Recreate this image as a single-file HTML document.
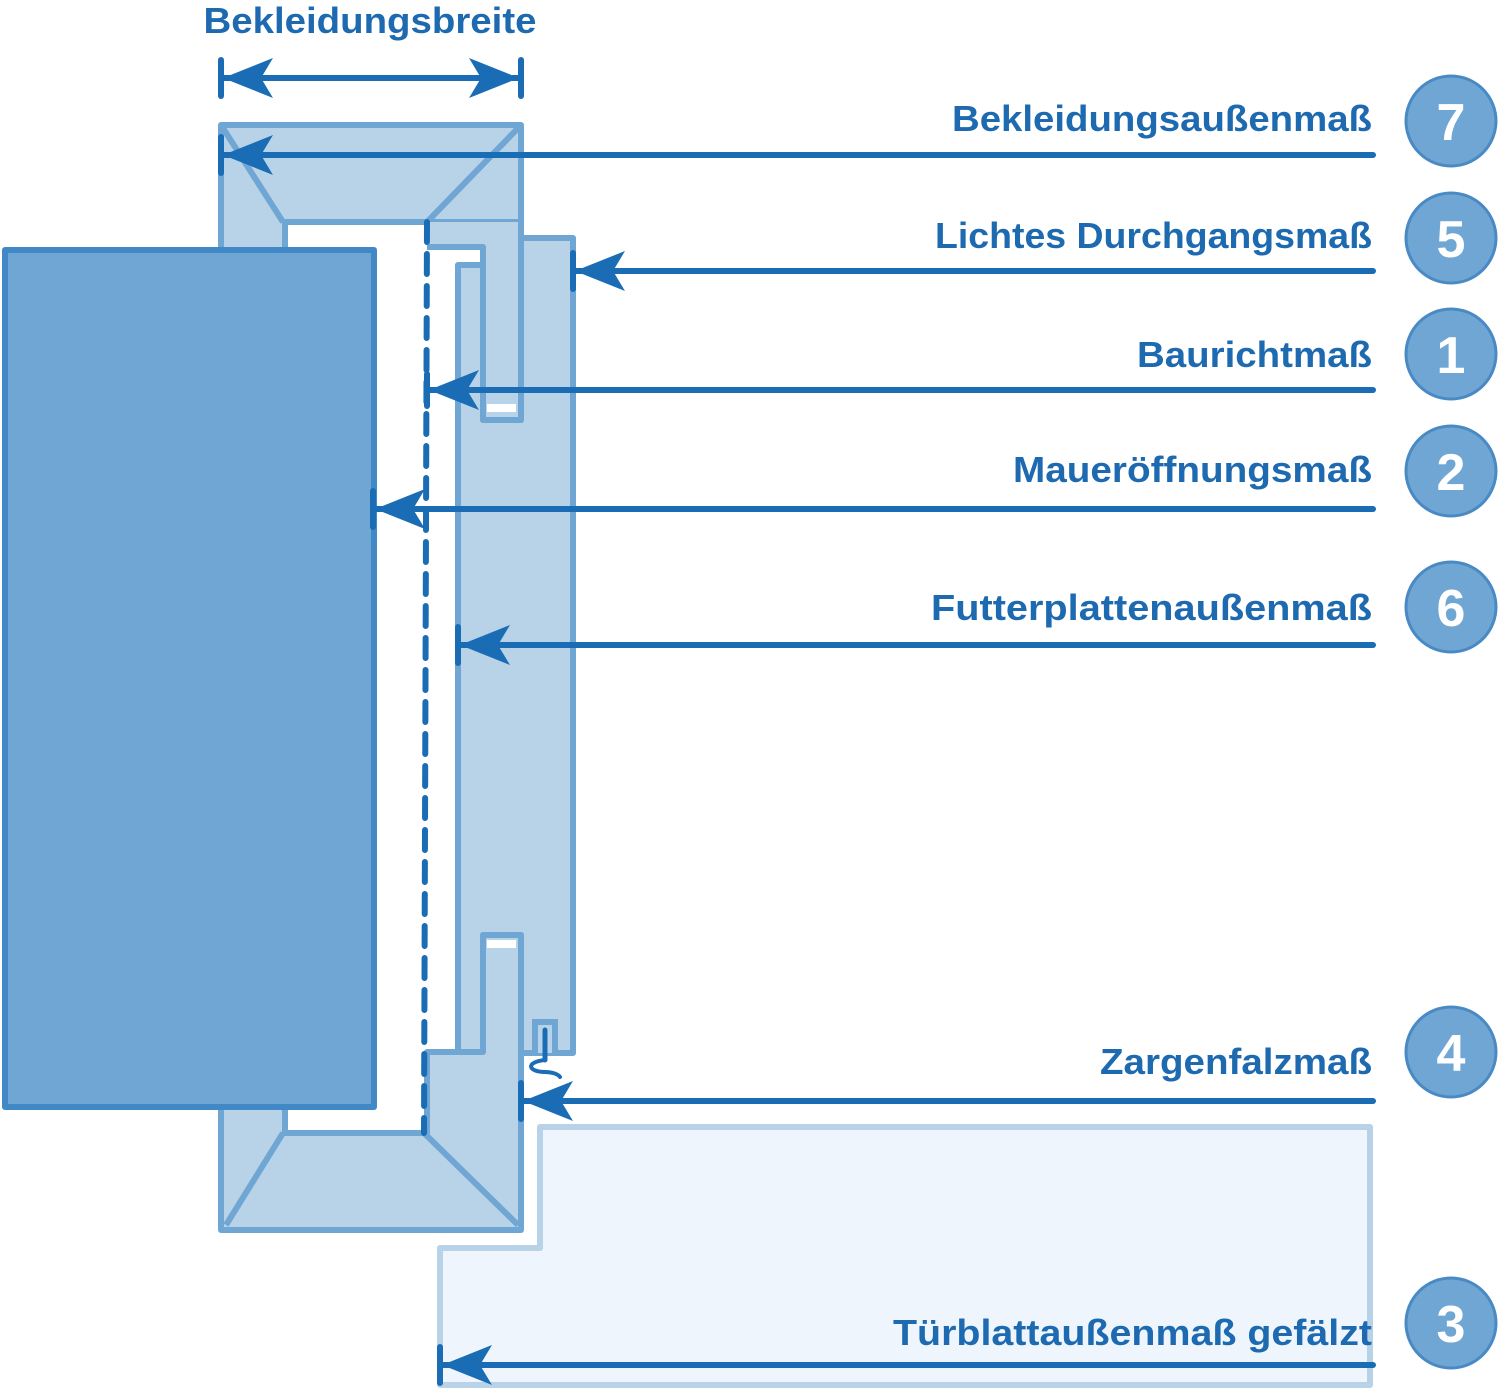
<!DOCTYPE html>
<html><head><meta charset="utf-8"><style>
html,body{margin:0;padding:0;background:#fff;}
svg{display:block;}
text{font-family:"Liberation Sans",sans-serif;font-weight:bold;}
</style></head><body>
<svg width="1500" height="1390" viewBox="0 0 1500 1390" xmlns="http://www.w3.org/2000/svg">
<defs>
<path id="ah" d="M0,0 L50,-20 L38,0 L50,20 Z" fill="#1a6db5"/>
</defs>
<!-- door leaf -->
<path d="M540,1127 L1370,1127 L1370,1385 L440,1385 L440,1248 L540,1248 Z" fill="#eef5fc" stroke="#b8d3e8" stroke-width="6" stroke-linejoin="round"/>
<!-- top casing -->
<path d="M221,125 L521,125 L521,222 L285,222 L285,252 L221,252 Z" fill="#b8d3e8" stroke="#6fa6d3" stroke-width="6" stroke-linejoin="round"/>
<line x1="221" y1="125" x2="283" y2="222" stroke="#6fa6d3" stroke-width="6"/>
<line x1="521" y1="125" x2="427" y2="222" stroke="#6fa6d3" stroke-width="6"/>
<!-- bottom casing -->
<path d="M221,1105 L285,1105 L285,1133 L427,1133 L427,1052 L521,1052 L521,1230 L221,1230 Z" fill="#b8d3e8" stroke="#6fa6d3" stroke-width="6" stroke-linejoin="round"/>
<line x1="283" y1="1133" x2="226" y2="1225" stroke="#6fa6d3" stroke-width="6"/>
<line x1="424" y1="1133" x2="518" y2="1225" stroke="#6fa6d3" stroke-width="6"/>
<!-- frame top part -->
<path d="M427,222 L521,222 L521,420 L483,420 L483,247 L427,247 Z" fill="#b8d3e8"/>
<!-- futter plate -->
<path d="M458,265 L483,265 L483,420 L521,420 L521,238 L573,238 L573,1053 L521,1053 L521,935 L483,935 L483,1052 L458,1052 Z" fill="#b8d3e8" stroke="#6fa6d3" stroke-width="6" stroke-linejoin="round"/>
<rect x="483" y="935" width="38" height="120" fill="#b8d3e8"/>
<!-- frame tongues outlines -->
<path d="M427,247 L483,247 L483,420 L521,420 L521,125" fill="none" stroke="#6fa6d3" stroke-width="6" stroke-linejoin="round"/>
<path d="M427,1052 L483,1052 L483,935 L521,935 L521,1230" fill="none" stroke="#6fa6d3" stroke-width="6" stroke-linejoin="round"/>
<rect x="487" y="404" width="29" height="8" fill="#fff"/>
<rect x="487" y="940" width="29" height="8" fill="#fff"/>
<path d="M535,1053 L535,1022 L555,1022 L555,1053" fill="#b8d3e8" stroke="#6fa6d3" stroke-width="6"/>
<line x1="545" y1="1030" x2="545" y2="1060" stroke="#1a6db5" stroke-width="5" stroke-linecap="round"/>
<path d="M545,1060 C525,1062 528,1072 545,1072 C552,1072 558,1074 560,1077" fill="none" stroke="#1a6db5" stroke-width="4" stroke-linecap="round"/>
<!-- wall -->
<rect x="5" y="250" width="369" height="857" fill="#6fa6d3" stroke="#4189c6" stroke-width="6" stroke-linejoin="round"/>
<!-- dashed line -->
<line x1="427" y1="222" x2="424" y2="1133" stroke="#1a6db5" stroke-width="6" stroke-dasharray="20 12" stroke-linecap="round"/>
<!-- top dimension -->
<g stroke="#1a6db5" stroke-width="6" stroke-linecap="round">
<line x1="221" y1="60" x2="221" y2="96"/><line x1="521" y1="60" x2="521" y2="96"/>
<line x1="221" y1="78" x2="521" y2="78"/>
</g>
<use href="#ah" transform="translate(223,78)"/>
<use href="#ah" transform="translate(519,78) scale(-1,1)"/>
<text x="370" y="33" font-size="36" fill="#1d6ab0" text-anchor="middle" textLength="333" lengthAdjust="spacingAndGlyphs">Bekleidungsbreite</text>
<!-- arrows -->
<g stroke="#1a6db5" stroke-width="6" stroke-linecap="round">
<line x1="221" y1="155" x2="1373" y2="155"/><line x1="221" y1="137" x2="221" y2="173"/>
<line x1="573" y1="271" x2="1373" y2="271"/><line x1="573" y1="253" x2="573" y2="289"/>
<line x1="427" y1="390" x2="1373" y2="390"/><line x1="427" y1="374" x2="427" y2="406"/>
<line x1="373" y1="509" x2="1373" y2="509"/><line x1="373" y1="491" x2="373" y2="527"/>
<line x1="458" y1="645" x2="1373" y2="645"/><line x1="458" y1="627" x2="458" y2="663"/>
<line x1="521" y1="1101" x2="1373" y2="1101"/><line x1="521" y1="1083" x2="521" y2="1119"/>
<line x1="440" y1="1365" x2="1373" y2="1365"/><line x1="440" y1="1347" x2="440" y2="1383"/>
</g>
<use href="#ah" transform="translate(223,155)"/>
<use href="#ah" transform="translate(575,271)"/>
<use href="#ah" transform="translate(429,390)"/>
<use href="#ah" transform="translate(375,509)"/>
<use href="#ah" transform="translate(460,645)"/>
<use href="#ah" transform="translate(523,1101)"/>
<use href="#ah" transform="translate(442,1365)"/>
<!-- labels -->
<g font-size="36" fill="#1d6ab0" text-anchor="end">
<text x="1372" y="131" textLength="420" lengthAdjust="spacingAndGlyphs">Bekleidungsaußenmaß</text>
<text x="1372" y="248" textLength="437" lengthAdjust="spacingAndGlyphs">Lichtes Durchgangsmaß</text>
<text x="1372" y="367" textLength="235" lengthAdjust="spacingAndGlyphs">Baurichtmaß</text>
<text x="1372" y="482" textLength="359" lengthAdjust="spacingAndGlyphs">Maueröffnungsmaß</text>
<text x="1372" y="620" textLength="441" lengthAdjust="spacingAndGlyphs">Futterplattenaußenmaß</text>
<text x="1372" y="1074" textLength="272" lengthAdjust="spacingAndGlyphs">Zargenfalzmaß</text>
<text x="1372" y="1345" textLength="479" lengthAdjust="spacingAndGlyphs">Türblattaußenmaß gefälzt</text>
</g>
<!-- circles -->
<g fill="#6fa6d3" stroke="#4a8ac4" stroke-width="3">
<circle cx="1451" cy="121" r="45"/><circle cx="1451" cy="238" r="45"/>
<circle cx="1451" cy="354" r="45"/><circle cx="1451" cy="471" r="45"/>
<circle cx="1451" cy="607" r="45"/><circle cx="1451" cy="1052" r="45"/>
<circle cx="1451" cy="1323" r="45"/>
</g>
<g font-size="52" fill="#fff" text-anchor="middle">
<text x="1451" y="140">7</text><text x="1451" y="257">5</text>
<text x="1451" y="373">1</text><text x="1451" y="490">2</text>
<text x="1451" y="626">6</text><text x="1451" y="1071">4</text>
<text x="1451" y="1342">3</text>
</g>
</svg>
</body></html>
